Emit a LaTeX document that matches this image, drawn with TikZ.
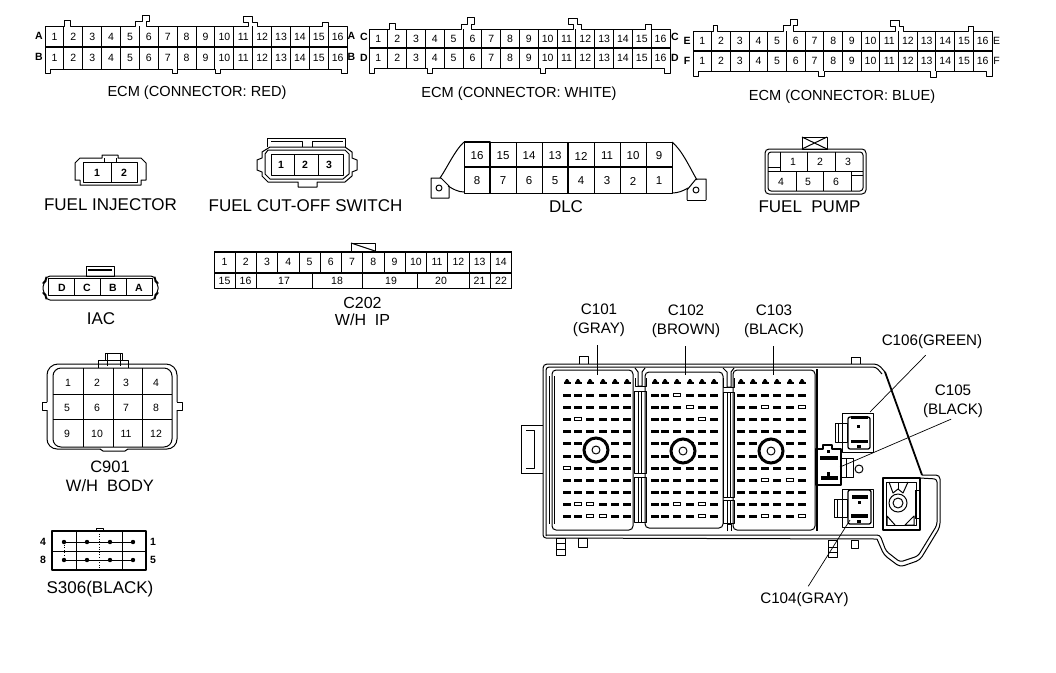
\documentclass[tikz,border=0pt]{standalone}
\usepackage{fontspec}
\setmainfont{Liberation Sans}
\tikzset{
  x=1pt,y=-1pt,
  ln/.style={line width=1pt,draw=black,line join=round},
  thick2/.style={line width=1.8pt,draw=black,line join=round},
  thin1/.style={line width=0.6pt,draw=black},
  num/.style={inner sep=0pt,font=\fontsize{10.5}{11}\selectfont},
  let1/.style={inner sep=0pt,font=\fontsize{10.5}{11}\selectfont\bfseries},
  captxt/.style={inner sep=0pt,align=center,font=\fontsize{17}{19}\selectfont},
  capS/.style={inner sep=0pt,align=center,font=\fontsize{15.2}{19.5}\selectfont},
  capE/.style={inner sep=0pt,align=center,font=\fontsize{14.6}{19.5}\selectfont},
  leader/.style={line width=0.7pt,draw=black},
  pinbox/.style={fill=black,draw=none},
  hollow/.style={fill=white,draw=black,line width=0.7pt}
}
\newcommand{\ecmgrid}[7]{% name, x0, pitch, top, mid, bottom, (y1)
  \foreach \i in {1,...,15}{\draw[ln] ({#2+#3*\i},#4) -- ({#2+#3*\i},#6);}
  \draw[thick2,line width=1.3pt] (#2,#5) -- ({#2+16*#3},#5);
  \foreach \i in {1,...,16}{
    \node[num] (#1a\i) at ({#2+#3*(\i-0.5)},{(#4+#5)/2}) {\i};
    \node[num] (#1b\i) at ({#2+#3*(\i-0.5)},{(#5+#6)/2}) {\i};
  }
}
\begin{document}
\begin{tikzpicture}
\useasboundingbox (0,0) rectangle (1056,672);
\fill[white] (0,0) rectangle (1056,672);

%% ECM RED
\ecmgrid{red}{45}{18.88}{26}{47}{69}{}
\draw[ln] (45,26) -- (64,26) -- (64,20) -- (70,20) -- (70,26) -- (135,26) -- (135,21) -- (142,21) -- (142,15) -- (149,15) -- (149,21) -- (146,21) -- (146,26) -- (248,26) -- (248,22) -- (243,22) -- (243,16) -- (252,16) -- (252,22) -- (257,22) -- (257,26) -- (322,26) -- (322,22) -- (328,22) -- (328,26) -- (347,26) -- (347,73) -- (341,73) -- (341,69) -- (220,69) -- (220,73) -- (215,73) -- (215,69) -- (177,69) -- (177,73) -- (172,73) -- (172,69) -- (50,69) -- (50,73) -- (45,73) -- cycle;
\node[let1] (redLa) at (39,36) {A};
\node[let1] (redLb) at (39,57) {B};
\node[let1] (redRa) at (351.5,36) {A};
\node[let1] (redRb) at (351.5,57) {B};
\node[capE] (redcap) at (197,92.5) {ECM (CONNECTOR: RED)};

%% ECM WHITE
\ecmgrid{wht}{369}{18.81}{29}{48}{68}{}
\draw[ln] (369,29) -- (389,29) -- (389,23) -- (395,23) -- (395,29) -- (461,29) -- (461,24) -- (467,24) -- (467,17) -- (474,17) -- (474,24) -- (471,24) -- (471,29) -- (573,29) -- (573,24) -- (568,24) -- (568,18) -- (577,18) -- (577,24) -- (581,24) -- (581,29) -- (645,29) -- (645,24) -- (651,24) -- (651,29) -- (670,29) -- (670,73) -- (664,73) -- (664,68) -- (545,68) -- (545,73) -- (540,73) -- (540,68) -- (432,68) -- (432,73) -- (427,73) -- (427,68) -- (374,68) -- (374,73) -- (369,73) -- cycle;
\node[let1] (whtLa) at (364,37) {C};
\node[let1] (whtLb) at (364,58) {D};
\node[let1] (whtRa) at (675,37) {C};
\node[let1] (whtRb) at (675,58) {D};
\node[capE] (whtcap) at (519,93.5) {ECM (CONNECTOR: WHITE)};

%% ECM BLUE
\ecmgrid{blu}{693}{18.69}{31}{51}{71}{}
\draw[ln] (693,31) -- (713,31) -- (713,25) -- (717,25) -- (717,31) -- (783,31) -- (783,25) -- (790,25) -- (790,19) -- (797,19) -- (797,25) -- (793,25) -- (793,31) -- (895,31) -- (895,26) -- (890,26) -- (890,20) -- (899,20) -- (899,26) -- (903,26) -- (903,31) -- (968,31) -- (968,26) -- (973,26) -- (973,31) -- (992,31) -- (992,76) -- (986,76) -- (986,71) -- (936,71) -- (936,77) -- (930,77) -- (930,71) -- (824,71) -- (824,76) -- (818,76) -- (818,71) -- (698,71) -- (698,76) -- (693,76) -- cycle;
\node[let1] (bluLa) at (687,41) {E};
\node[let1] (bluLb) at (687,61) {F};
\node[num] (bluRa) at (996.5,41) {E};
\node[num] (bluRb) at (996.5,61) {F};
\node[capE] (blucap) at (842,96.5) {ECM (CONNECTOR: BLUE)};

%% FUEL INJECTOR
\draw[ln] (80,158) -- (102,158) -- (102,155) -- (118,155) -- (118,158) -- (141,158) -- (146,163) -- (146,180) -- (141,180) -- (141,185) -- (80,185) -- (80,180) -- (75,180) -- (75,163) -- cycle;
\draw[ln] (83,162) rectangle (137,182);
\draw[ln] (111,162) -- (111,182);
\draw[ln] (104,162) -- (104,158) (116,158) -- (116,162);
\node[let1] (fi1) at (97,172.5) {1};
\node[let1] (fi2) at (124,172.5) {2};
\node[captxt] (ficap) at (110.5,204.5) {FUEL INJECTOR};

%% FUEL CUT-OFF
\draw[ln] (267,147) -- (267,138) -- (345,138) -- (345,147);
\draw[ln] (271,141) -- (302,141) -- (302,147) (312,147) -- (312,141) -- (343,141);
\draw[ln] (270,147) -- (345,147) -- (352,152) -- (352,158) -- (357,160) -- (357,170) -- (352,172) -- (352,176) -- (345,182) -- (317,182) -- (317,187) -- (298,187) -- (298,182) -- (268,182) -- (262,176) -- (262,172) -- (257,170) -- (257,160) -- (262,158) -- (262,152) -- cycle;
\draw[ln] (268,150) -- (345,150) -- (349,154) -- (349,174) -- (343,179) -- (298,179) -- (270,179) -- (265,174) -- (265,154) -- cycle;
\draw[ln] (271,154) rectangle (343,175);
\draw[ln] (294,154) -- (294,175) (318,154) -- (318,175);
\node[let1] (fc1) at (281,165) {1};
\node[let1] (fc2) at (305,165) {2};
\node[let1] (fc3) at (329,165) {3};
\node[captxt] (fccap) at (305.5,205.5) {FUEL CUT-OFF SWITCH};

%% DLC
\draw[ln] (464,142) .. controls (455,150) and (447,168) .. (440,178);
\draw[ln] (448,186) .. controls (453,189) and (458,192) .. (464,192);
\draw[ln] (672,142) .. controls (682,150) and (690,168) .. (697,180);
\draw[ln] (672,193) .. controls (678,193) and (683,191) .. (688,188);
\draw[ln] (431,178) -- (441,178) -- (449,186) -- (449,198) -- (431,198) -- cycle;
\draw[ln] (439,188) circle (3);
\draw[ln] (687,200) -- (687,190) -- (696,179) -- (706,179) -- (706,200);
\draw[ln] (687,200) -- (706,200);
\draw[ln] (696,190) circle (3);
\draw[ln] (464,142) rectangle (672,193);
\draw[thick2] (464,167) -- (672,167);
\foreach \i in {1,...,7}{\draw[ln] ({464+26*\i},142) -- ({464+26*\i},193);}
\draw[thick2] (464,142) -- (490,142) -- (490,193);
\draw[thick2] (568,142) -- (568,193);
\foreach \i/\n in {0/16,1/15,2/14,3/13,4/12,5/11,6/10,7/9}{\node[num,font=\fontsize{11.5}{12}\selectfont] (dlcA\n) at ({477+26*\i},156) {\n};}
\foreach \i/\n in {0/8,1/7,2/6,3/5,4/4,5/3,6/2,7/1}{\node[num,font=\fontsize{11.5}{12}\selectfont] (dlcB\n) at ({477+26*\i},181) {\n};}
\node[captxt] (dlccap) at (566,207) {DLC};

%% FUEL PUMP
\draw[ln] (802,137) rectangle (827,149);
\draw[ln] (802,137) -- (827,149) (827,137) -- (802,149);
\draw[ln,rounded corners=4pt] (765,149) rectangle (866,194);
\draw[ln,rounded corners=3pt] (768,152) rectangle (863,191);
\draw[ln] (768,171) -- (863,171);
\draw[ln] (780,152) -- (780,171) (807,152) -- (807,171) (835,152) -- (835,171);
\draw[ln] (796,171) -- (796,191) (823,171) -- (823,191) (851,171) -- (851,191);
\draw[ln] (768,167) -- (780,167) (851,175) -- (863,175);
\node[num] (fp1) at (793,162) {1};
\node[num] (fp2) at (820,162) {2};
\node[num] (fp3) at (848,162) {3};
\node[num] (fp4) at (781,182) {4};
\node[num] (fp5) at (808,182) {5};
\node[num] (fp6) at (836,182) {6};
\node[captxt] (fpcap) at (809.5,206.5) {FUEL\ \ PUMP};

%% IAC
\draw[ln] (86,266) rectangle (114,276);
\draw[thick2] (88,270) -- (112,270);
\draw[ln,rounded corners=4pt] (46,276) -- (155,276) -- (155,281) -- (158,283) -- (158,293) -- (155,295) -- (155,300) -- (46,300) -- (46,295) -- (43,293) -- (43,283) -- (46,281) -- cycle;
\draw[ln] (48,278) rectangle (152,295);
\draw[ln] (74,278) -- (74,295) (100,278) -- (100,295) (126,278) -- (126,295);
\node[let1] (iacD) at (62,287.5) {D};
\node[let1] (iacC) at (87,287.5) {C};
\node[let1] (iacB) at (113,287.5) {B};
\node[let1] (iacA) at (139,287.5) {A};
\node[captxt] (iaccap) at (101,318.5) {IAC};

%% C202
\draw[ln] (351,252) -- (351,243) -- (375,243) -- (375,252);
\draw[ln] (351,243) -- (375,251);
\draw[ln] (214,252) rectangle (511.5,288);
\draw[thick2,line width=1.3pt] (214,252) -- (511.5,252) (214,273) -- (511.5,273);
\foreach \i in {1,...,13}{\draw[ln] ({214+21.25*\i},252) -- ({214+21.25*\i},273);}
\foreach \i in {1,...,14}{\node[num] (cA\i) at ({214+21.25*(\i-0.5)},262) {\i};}
\foreach \x in {235,256,312,362,417,469,490}{\draw[ln] (\x,273) -- (\x,288);}
\foreach \x/\n in {224.5/15,245.5/16,284/17,337/18,391/19,441/20,479.5/21,501/22}{\node[num] (cB\n) at (\x,281) {\n};}
\node[captxt,font=\fontsize{16}{17.5}\selectfont] (c202cap) at (362.5,311.5) {C202\\W/H\ \ IP};

%% C901
\draw[ln] (105,360) -- (105,353) -- (122,353) -- (122,360);
\draw[ln] (98,368) -- (98,360) -- (128,360) -- (128,368);
\draw[ln] (107,353) -- (107,366) (120,353) -- (120,366);
\draw[ln,rounded corners=11pt] (47,402) -- (47,364) -- (177,364) -- (177,402);
\draw[ln] (47,402) -- (42,402) -- (42,410) -- (47,410);
\draw[ln] (177,402) -- (182,402) -- (182,410) -- (177,410);
\draw[ln,rounded corners=10pt] (47,410) -- (47,449) -- (100,449);
\draw[ln] (100,449) -- (103,451) -- (125,451) -- (128,449);
\draw[ln,rounded corners=10pt] (128,449) -- (177,449) -- (177,410);
\draw[ln,rounded corners=8pt] (53,394) -- (53,368) -- (172,368) -- (172,394) -- (172,419) -- (172,447) -- (53,447) -- (53,394);
\draw[ln] (83,368) -- (83,447) (113,368) -- (113,447) (142,368) -- (142,447);
\draw[thin1] (53,394) -- (172,394);
\draw[ln] (53,419) -- (172,419);
\foreach \n/\x/\y in {1/68/383,2/97/383,3/126/383,4/156/383,5/67/408,6/97/408,7/126/408,8/156/408,9/67/434,10/97/434,11/126/434,12/156/434}{\node[num] (cn\n) at (\x,\y) {\n};}
\node[captxt,font=\fontsize{16.5}{19}\selectfont] (c901cap) at (110,476) {C901\\W/H\ \ BODY};

%% S306
\draw[thick2] (52,531) rectangle (146,570);
\draw[ln] (96,531) -- (96,528) -- (103,528) -- (103,531);
\draw[ln] (52,551) -- (146,551);
\draw[ln] (76,531) -- (76,570) (122,531) -- (122,570);
\draw[thin1,dotted] (99,531) -- (99,570);
\draw[thin1,dotted] (64,542) -- (64,560);
\foreach \x in {64,87,110,133}{\fill (\x,542) circle (2.2); \fill (\x,560) circle (2.2);}
\draw[thin1] (64,542) -- (133,542) (64,560) -- (133,560);
\node[let1] (s4) at (43,542) {4};
\node[let1] (s8) at (43,560) {8};
\node[let1] (s1) at (153,542) {1};
\node[let1] (s5) at (153,560) {5};
\node[captxt] (s306cap) at (100,589.5) {S306(BLACK)};

%% FUSE BOX outer
\draw[ln] (521,425) -- (543,425) (521,473) -- (543,473) (521,425) -- (521,473);
\draw[ln] (526,430) -- (534,430) -- (534,468) -- (526,468);
\draw[ln] (579,364) -- (579,356) -- (588,356) -- (588,364);
\draw[ln] (851,364) -- (851,357) -- (860,357) -- (860,364);
\draw[ln] (556,538) rectangle (565,555);
\draw[ln] (556,543) -- (565,543) (556,549) -- (565,549);
\draw[ln] (578,538) rectangle (587,547);
\draw[ln] (828,540) rectangle (837,557);
\draw[ln] (828,547) -- (837,547) (828,552) -- (837,552);
\draw[ln] (851,540) rectangle (858,548);
\draw[ln,rounded corners=4pt] (543,370) -- (543,364) -- (878,364) -- (885,372);
\draw[thick2] (885,372) -- (922,475);
\draw[ln,rounded corners=4pt] (922,475) -- (940,475) -- (940,527) -- (920,560) -- (900,567) -- (884,555) -- (877,539);
\draw[ln,rounded corners=3pt] (877,539) -- (543,538) -- (543,370);
\draw[ln,rounded corners=3pt] (546,536) -- (546,367) -- (876,367) -- (882,374);
\draw[ln,rounded corners=3pt] (546,535) -- (880,535) -- (886,551) -- (900,562) -- (918,556) -- (937,525) -- (937,479) -- (920,478);

%% blocks
\draw[ln,rounded corners=4pt] (552,370) rectangle (633,530);
\draw[ln,rounded corners=4pt] (645,372) rectangle (723,528);
\draw[ln,rounded corners=4pt] (733,370) rectangle (815,530);
\draw[thick2,line width=1.2pt] (817,369) -- (817,531);
\draw[ln] (554,376) -- (554,524) (549,376) -- (549,524);
%% bars between blocks
\foreach \xa/\xb/\ya/\yb in {634/646/391/473,634/646/477/522,723/734/392/497,723/734/500/523}{
  \draw[ln] (\xa,\ya) rectangle (\xb,\yb);
  \draw[ln] ({(\xa+\xb)/2-1.5},\ya) -- ({(\xa+\xb)/2-1.5},\yb) ({(\xa+\xb)/2+1.5},\ya) -- ({(\xa+\xb)/2+1.5},\yb);
}
\draw[ln] (635,368) -- (638,372) -- (638,386) -- (642,386) -- (642,372) -- (645,368);
\draw[ln] (635,378) -- (635,386) -- (646,386) -- (646,378);
\draw[ln] (723,368) -- (727,372) -- (727,387) -- (731,387) -- (731,372) -- (734,368);
\draw[ln] (723,378) -- (723,387) -- (734,387) -- (734,378);
\draw[ln] (727,531) -- (727,524) -- (731,524) -- (731,531);

%% pins
\foreach \c in {567,578,590,603,615,627,655,665,677,690,702,714,741,753,765,777,790,802}{
  \foreach \r in {395,407,419,431,443,456,468,480,492,504,516}{
    \fill[pinbox] ({\c-4},{\r-1.5}) rectangle ({\c+4},{\r+1.5});
  }
  \fill[pinbox] ({\c-3.5},382) rectangle ({\c+3.5},384);
  \fill[pinbox] ({\c-0.8},379) -- ({\c+0.8},379) -- ({\c+2.5},382) -- ({\c-2.5},382) -- cycle;
}
\foreach \c/\r in {578/419,567/468,578/504,590/504,590/516,603/516,677/395,690/407,702/419,677/504,702/504,702/516,765/407,802/407,765/480,790/480,765/516,802/516}{
  \filldraw[hollow] ({\c-3.5},{\r-1.5}) rectangle ({\c+3.5},{\r+1.5});
}
%% bosses
\foreach \x/\y/\n in {596/450/a,683/451/b,771/451/c}{
  \filldraw[fill=white,draw=black,line width=3pt] (\x,\y) circle (12);
  \draw[ln] (\x,\y) circle (4);
}

%% C106
\draw[ln] (842,452) -- (842,413) -- (873,413) -- (873,452) -- cycle;
\draw[ln,rounded corners=2pt,line width=1.3pt] (848,417) rectangle (870,449);
\draw[ln] (835,423) rectangle (847,442);
\draw[ln] (838,423) -- (838,442);
\fill (851,416) rectangle (868,419);
\fill (851,440) rectangle (868,443);
\fill (857,445) rectangle (861,448);
\fill (857,425) rectangle (860,428);
%% C105
\draw[ln,line width=1.3pt] (816,449) -- (823,449) -- (823,445) -- (832,445) -- (832,449) -- (841,449) -- (841,485) -- (816,485) -- cycle;
\draw[ln] (841,458) -- (853,458) -- (853,477) -- (841,477);
\draw[ln] (846,458) -- (846,477);
\fill (820,456) rectangle (838,460);
\fill (821,476) rectangle (838,480);
\fill (827,450) rectangle (830,453);
\fill (827,472) rectangle (830,476);
\draw[ln] (859,469) circle (4);
%% C104
\draw[ln] (842,525) -- (842,489) -- (873,489) -- (873,527) -- (842,527) -- cycle;
\draw[ln,rounded corners=2pt,line width=1.3pt] (848,490) rectangle (871,524);
\draw[ln] (834,499) rectangle (847,517);
\draw[ln] (837,499) -- (837,517);
\fill (852,495) rectangle (868,499);
\fill (851,514) rectangle (868,518);
\fill (857,520) rectangle (861,523);
\fill (858,501) rectangle (861,504);
%% stud block
\draw[thick2] (883,478) rectangle (920,530);
\draw[ln] (886,482) rectangle (916,525);
\draw[ln] (915,490) rectangle (920,518);
\draw[ln] (889,482) -- (893,493) -- (898,489) -- (903,493) -- (908,482);
\draw[ln] (898,482) -- (898,489);
\draw[ln] (898,503) circle (9);
\draw[ln] (898,503) circle (5);
\draw[ln] (887,525) -- (887,516) -- (895,525) (914,516) -- (905,525) -- (914,525) -- cycle;

%% labels and leaders
\node[capS] (c101) at (599,320.5) {C101\\(GRAY)};
\node[capS] (c102) at (686,321.5) {C102\\(BROWN)};
\node[capS] (c103) at (774,321.5) {C103\\(BLACK)};
\node[capS] (c106) at (932,341.5) {C106(GREEN)};
\node[capS] (c105) at (953,401.5) {C105\\(BLACK)};
\node[capS] (c104) at (804.5,599.5) {C104(GRAY)};
\coordinate (e101) at (597,375);
\coordinate (e102) at (685,375);
\coordinate (e103) at (773,375);
\coordinate (e106) at (870,412);
\coordinate (e105) at (840,467);
\coordinate (e104) at (850,520);
\draw[leader,shorten <=8pt] (c101.south-|e101) -- (e101);
\draw[leader,shorten <=8pt] (c102.south-|e102) -- (e102);
\draw[leader,shorten <=8pt] (c103.south-|e103) -- (e103);
\draw[leader,shorten <=9pt] (c106.south) -- (e106);
\draw[leader,shorten <=2pt] (c105.south) -- (e105);
\draw[leader,shorten <=7pt] (c104.north) -- (e104);
\end{tikzpicture}
\end{document}
